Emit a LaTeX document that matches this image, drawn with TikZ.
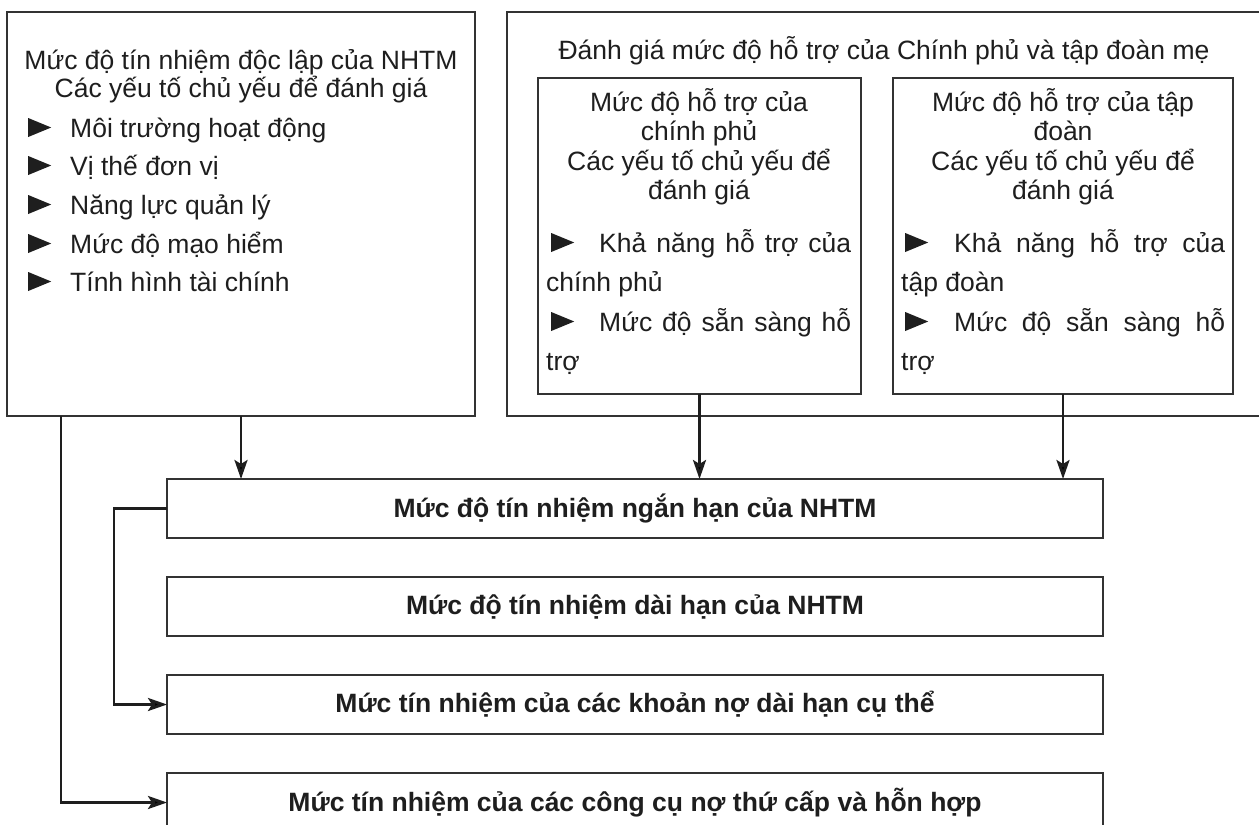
\documentclass[tikz,border=0pt]{standalone}
\usepackage{fontspec}
\setmainfont{Liberation Sans}
\usetikzlibrary{arrows.meta}
\definecolor{ink}{HTML}{1E1E1E}
\definecolor{edge}{HTML}{333333}
\newcommand\tri{\tikz[baseline=0pt]\fill[ink] (0,0)--(0,19pt)--(23pt,9.5pt)--cycle;}
\begin{document}
\begin{tikzpicture}[x=1pt,y=-1pt,
  box/.style={draw=edge, line width=1.5pt, inner sep=0pt, outer sep=0pt, anchor=north west},
  txt/.style={inner sep=0pt, text=ink, font=\fontsize{26.5}{30}\selectfont},
  btxt/.style={inner sep=0pt, text=ink, font=\fontsize{26.5}{30}\selectfont\bfseries},
  arr/.style={draw=ink, line width=2.8pt, -{Stealth[length=19pt,width=13pt,inset=4pt]}}]
\clip (0,0) rectangle (1259,825);
\fill[white] (0,0) rectangle (1259,825);
% boxes
\node[box, minimum width=468pt, minimum height=404pt] (L) at (7,12) {};
\node[box, minimum width=755pt, minimum height=404pt] (R) at (507,12) {};
\node[box, minimum width=323pt, minimum height=316pt] (G) at (538,78) {};
\node[box, minimum width=340pt, minimum height=316pt] (T) at (893,78) {};
\node[box, minimum width=936pt, minimum height=59pt] (B1) at (167,479) {};
\node[box, minimum width=936pt, minimum height=59pt] (B2) at (167,577) {};
\node[box, minimum width=936pt, minimum height=59pt] (B3) at (167,675) {};
\node[box, minimum width=936pt, minimum height=59pt] (B4) at (167,773) {};
% left box text
\node[txt, anchor=base] (l1) at (241,69) {Mức độ tín nhiệm độc lập của NHTM};
\node[txt, anchor=base] (l2) at (241,97) {Các yếu tố chủ yếu để đánh giá};
\node[txt, anchor=base west] (la) at (28,137) {\tri\hspace{19pt}Môi trường hoạt động};
\node[txt, anchor=base west] (lb) at (28,175) {\tri\hspace{19pt}Vị thế đơn vị};
\node[txt, anchor=base west] (lc) at (28,214) {\tri\hspace{19pt}Năng lực quản lý};
\node[txt, anchor=base west] (ld) at (28,253) {\tri\hspace{19pt}Mức độ mạo hiểm};
\node[txt, anchor=base west] (le) at (28,291) {\tri\hspace{19pt}Tính hình tài chính};
% right header
\node[txt, anchor=base] (rh) at (884,59) {Đánh giá mức độ hỗ trợ của Chính phủ và tập đoàn mẹ};
% government box
\node[txt, anchor=base] (g1) at (699,111) {Mức độ hỗ trợ của};
\node[txt, anchor=base] (g2) at (699,140) {chính phủ};
\node[txt, anchor=base] (g3) at (699,170) {Các yếu tố chủ yếu để};
\node[txt, anchor=base] (g4) at (699,199) {đánh giá};
\node[txt, anchor=base west] (g5) at (551,252) {\tri\hspace{25pt}\hbox to 252pt{Khả\hfill năng\hfill hỗ\hfill trợ\hfill của}};
\node[txt, anchor=base west] (g6) at (546,291) {chính phủ};
\node[txt, anchor=base west] (g7) at (551,331) {\tri\hspace{25pt}\hbox to 252pt{Mức\hfill độ\hfill sẵn\hfill sàng\hfill hỗ}};
\node[txt, anchor=base west] (g8) at (546,370) {trợ};
% group box
\node[txt, anchor=base] (t1) at (1063,111) {Mức độ hỗ trợ của tập};
\node[txt, anchor=base] (t2) at (1063,140) {đoàn};
\node[txt, anchor=base] (t3) at (1063,170) {Các yếu tố chủ yếu để};
\node[txt, anchor=base] (t4) at (1063,199) {đánh giá};
\node[txt, anchor=base west] (t5) at (905,252) {\tri\hspace{26pt}\hbox to 271pt{Khả\hfill năng\hfill hỗ\hfill trợ\hfill của}};
\node[txt, anchor=base west] (t6) at (901,291) {tập đoàn};
\node[txt, anchor=base west] (t7) at (905,331) {\tri\hspace{26pt}\hbox to 271pt{Mức\hfill độ\hfill sẵn\hfill sàng\hfill hỗ}};
\node[txt, anchor=base west] (t8) at (901,370) {trợ};
% bottom boxes text
\node[btxt] (b1) at (B1.center) {Mức độ tín nhiệm ngắn hạn của NHTM};
\node[btxt] (b2) at (B2.center) {Mức độ tín nhiệm dài hạn của NHTM};
\node[btxt] (b3) at (B3.center) {Mức tín nhiệm của các khoản nợ dài hạn cụ thể};
\node[btxt] (b4) at (B4.center) {Mức tín nhiệm của các công cụ nợ thứ cấp và hỗn hợp};
% connectors
\coordinate (s0) at ([xshift=54pt]L.south west);
\draw[arr] (L.south) -- (L.south |- B1.north);
\draw[arr] (G.south) -- (G.south |- B1.north);
\draw[arr] (T.south) -- (T.south |- B1.north);
\draw[arr] (B1.west) -- ++(-53,0) |- (B3.west);
\draw[arr] (s0) |- (B4.west);
\end{tikzpicture}
\end{document}
